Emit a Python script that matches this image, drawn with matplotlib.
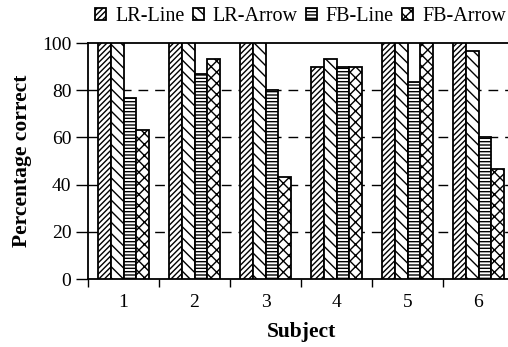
import matplotlib
matplotlib.use("Agg")
import matplotlib.pyplot as plt
import numpy as np

subjects = ["1", "2", "3", "4", "5", "6"]
series_names = ["LR-Line", "LR-Arrow", "FB-Line", "FB-Arrow"]
lr_line = [100, 100, 100, 90, 100, 100]
lr_arrow = [100, 100, 100, 93.3, 100, 96.7]
fb_line = [76.7, 86.7, 80, 90, 83.3, 60]
fb_arrow = [63.3, 93.3, 43.3, 90, 100, 46.7]
yticks = [0, 20, 40, 60, 80, 100]

plt.rcParams['font.family'] = ['Liberation Serif', 'DejaVu Serif']
plt.rcParams['hatch.linewidth'] = 1.0

fig = plt.figure(figsize=(5.08, 3.47), dpi=100)
ax = fig.add_axes([88/508, 68/347, (514-88)/508, (304-68)/347])

hatches = ['//////', '\\\\\\', '-----', 'xxx']
data = [lr_line, lr_arrow, fb_line, fb_arrow]
x = np.arange(len(subjects))
w = 0.183
handles = []
for k, (vals, h, name) in enumerate(zip(data, hatches, series_names)):
    b = ax.bar(x + (k - 1.5) * w, vals, width=w, color='white', edgecolor='black',
               hatch=h, linewidth=1.3, label=name, zorder=3)
    handles.append(b)

ax.set_xlim(-0.5, 5.5)
ax.set_ylim(0, 100)
ax.set_yticks(yticks)
ax.set_yticklabels([str(v) for v in yticks], fontsize=14)
ax.set_xticks(x)
ax.set_xticklabels(subjects, fontsize=14)
ax.set_xticks(np.arange(-0.5, 6, 1.0), minor=True)
ax.tick_params(axis='x', which='major', length=0, pad=11)
ax.tick_params(axis='x', which='minor', length=6, width=1, direction='out')
ax.tick_params(axis='y', length=9, width=1, direction='out', pad=3)

for yv in [20, 40, 60, 80]:
    ax.axhline(yv, color='black', linestyle=(0, (7, 5)), linewidth=1, zorder=1)

for s in ax.spines.values():
    s.set_linewidth(1.3)
ax.spines['right'].set_visible(False)

ax.set_ylabel("Percentage correct", fontsize=15.5, fontweight='bold', labelpad=7)
ax.set_xlabel("Subject", fontsize=15.5, fontweight='bold', labelpad=8)

fig.legend(handles=handles, labels=series_names, loc='upper left',
           bbox_to_anchor=(95/508, 1 - 7/347), ncol=4, frameon=False, fontsize=14.5,
           handlelength=0.55, handleheight=0.55, handletextpad=0.45,
           columnspacing=0.4, borderaxespad=0, borderpad=0)

fig.savefig("out.png", dpi=100)
